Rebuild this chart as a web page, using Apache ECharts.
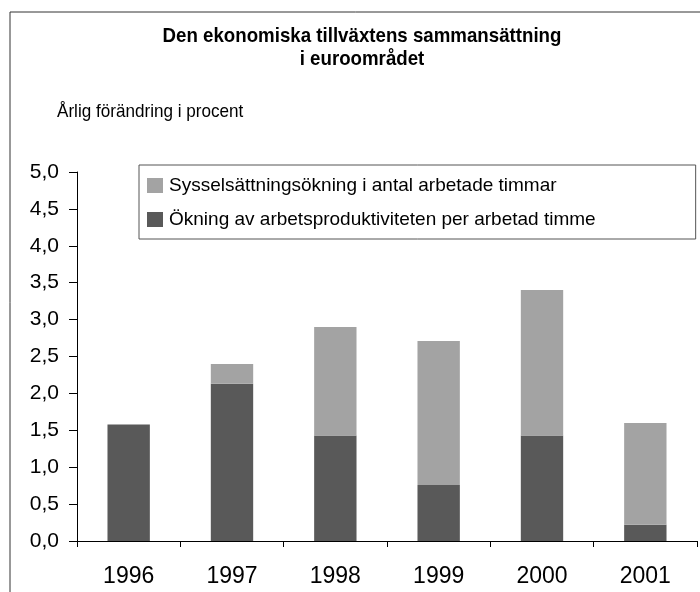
<!DOCTYPE html>
<html>
<head>
<meta charset="utf-8">
<script src="https://cdn.jsdelivr.net/npm/echarts@6/dist/echarts.min.js"></script>
<style>
  html, body { margin: 0; padding: 0; background: #fff; }
  #chart { width: 700px; height: 592px; }
</style>
</head>
<body>
<div id="chart"></div>
<script>
const years = ['1996', '1997', '1998', '1999', '2000', '2001']
// Ökning av arbetsproduktiviteten per arbetad timme (dark, bottom)
const productivity = [1.58, 2.13, 1.43, 0.76, 1.43, 0.22]
// Sysselsättningsökning i antal arbetade timmar (light, top)
const employment = [0, 0.27, 1.47, 1.95, 1.97, 1.38]

const nameEmp = 'Sysselsättningsökning i antal arbetade timmar'
const nameProd = 'Ökning av arbetsproduktiviteten per arbetad timme'

const FONT = '"Liberation Sans Narrow", "Arial Narrow", "Liberation Sans", Arial, sans-serif'

const chart = echarts.init(document.getElementById('chart'), null, { renderer: 'canvas' })

chart.setOption({
  backgroundColor: '#fff',
  animation: false,
  textStyle: { fontFamily: FONT },
  graphic: [
    {
      type: 'rect',
      shape: { x: 10, y: 12, width: 720, height: 620 },
      style: { fill: 'none', stroke: '#333', lineWidth: 1 },
      silent: true
    },
    {
      // narrow title, as in the original
      type: 'text',
      x: 362, y: 25,
      scaleX: 0.89,
      style: {
        text: 'Den ekonomiska tillväxtens sammansättning\ni euroområdet',
        align: 'center',
        fontFamily: FONT,
        fontWeight: 'bold',
        fontSize: 21,
        lineHeight: 23,
        fill: '#000'
      }
    },
    {
      type: 'text',
      x: 57, y: 102,
      scaleX: 0.9,
      style: {
        text: 'Årlig förändring i procent',
        fontFamily: FONT,
        fontSize: 19,
        fill: '#000'
      }
    }
  ],
  legend: {
    orient: 'vertical',
    left: 139,
    top: 165,
    data: [nameEmp, nameProd],
    itemWidth: 16,
    itemHeight: 15,
    itemGap: 15,
    icon: 'rect',
    padding: [11, 100, 10, 8],
    borderColor: '#555',
    borderWidth: 1,
    textStyle: { fontFamily: FONT, fontSize: 19, color: '#000', padding: [0, 0, 0, 1] }
  },
  grid: {
    left: 77,
    right: 3,
    top: 172,
    bottom: 51,
    containLabel: false
  },
  xAxis: {
    type: 'category',
    data: years,
    axisLine: { lineStyle: { color: '#000', width: 1 } },
    axisTick: { show: true, length: 6, lineStyle: { color: '#000' } },
    axisLabel: { color: '#000', fontSize: 23, fontFamily: FONT, margin: 24 }
  },
  yAxis: {
    type: 'value',
    min: 0,
    max: 5,
    interval: 0.5,
    axisLine: { show: true, lineStyle: { color: '#000', width: 1 } },
    axisTick: { show: true, length: 8, lineStyle: { color: '#000' } },
    splitLine: { show: false },
    axisLabel: {
      color: '#000',
      fontSize: 21,
      fontFamily: FONT,
      margin: 18,
      formatter: v => v.toFixed(1).replace('.', ',')
    }
  },
  series: [
    {
      name: nameProd,
      type: 'bar',
      stack: 'total',
      data: productivity,
      barWidth: '41%',
      itemStyle: { color: '#595959' }
    },
    {
      name: nameEmp,
      type: 'bar',
      stack: 'total',
      data: employment,
      barWidth: '41%',
      itemStyle: { color: '#a3a3a3' }
    }
  ]
})
</script>
</body>
</html>
